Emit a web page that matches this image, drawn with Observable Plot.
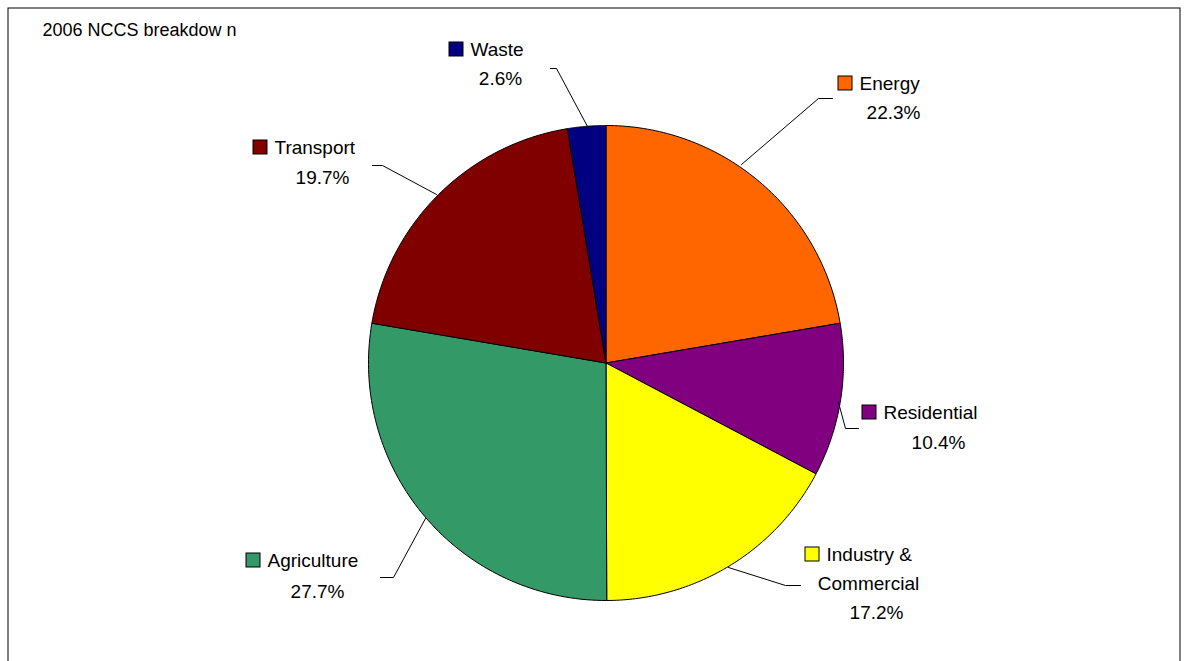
<!DOCTYPE html>
<html><head><meta charset="utf-8">
<script src="https://cdn.jsdelivr.net/npm/d3@7"></script>
<script src="https://cdn.jsdelivr.net/npm/@observablehq/plot@0.6"></script>
<style>body{margin:0;background:#fff}</style>
</head><body><div id="chart"></div>
<script>
const sectors = ['Energy', 'Residential', 'Industry & Commercial', 'Agriculture', 'Transport', 'Waste']
const shares = [22.3, 10.4, 17.2, 27.7, 19.7, 2.6]
const colors = ['#ff6600', '#800080', '#ffff00', '#339966', '#800000', '#000080']

// layout (pixels)
const cx = 605.5, cy = 362.5, R = 237.5
const labelLayout = [
  {sq: [838, 83], lines: ['Energy'], pct: [893, 112], leader: [[832, 98], [818, 98], [741, 164]]},
  {sq: [862, 412], lines: ['Residential'], pct: [938, 442], leader: [[858, 428], [845, 428], [838, 402]]},
  {sq: [805, 554], lines: ['Industry &', 'Commercial'], pct: [876, 612], leader: [[800, 585], [785, 585], [728, 567]]},
  {sq: [246, 560], lines: ['Agriculture'], pct: [317, 591], leader: [[380, 577], [393, 577], [425, 518]]},
  {sq: [253, 147], lines: ['Transport'], pct: [322, 177], leader: [[372, 165], [382, 165], [436, 194]]},
  {sq: [449, 49], lines: ['Waste'], pct: [500, 78], leader: [[550, 68], [556, 68], [587, 126]]}
]

const arcs = d3.pie().sort(null).value(d => d)(shares)
const slicePts = []
arcs.forEach((a, i) => {
  slicePts.push({s: i, x: cx, y: cy})
  const n = 80
  for (let k = 0; k <= n; k++) {
    const t = a.startAngle + (a.endAngle - a.startAngle) * k / n
    slicePts.push({s: i, x: cx + R * Math.sin(t), y: cy - R * Math.cos(t)})
  }
  slicePts.push({s: i, x: cx, y: cy})
})

const leaders = labelLayout.flatMap((l, i) => l.leader.map(p => ({s: i, x: p[0], y: p[1]})))
const squares = labelLayout.map((l, i) => ({s: i, x: l.sq[0], y: l.sq[1]}))
const firstLines = labelLayout.map(l => ({t: l.lines[0], x: l.sq[0] + 21, y: l.sq[1]}))
const extraLines = labelLayout.flatMap(l => l.lines.slice(1).map((t, j) => ({t, x: l.pct[0] - 8, y: l.sq[1] + (j + 1) * 29})))
const pcts = labelLayout.map((l, i) => ({t: shares[i].toFixed(1) + '%', x: l.pct[0], y: l.pct[1]}))

const chart = Plot.plot({
  width: 1187, height: 661, margin: 0,
  style: {fontFamily: 'Liberation Sans, Arial, sans-serif'},
  x: {domain: [0, 1187], range: [0, 1187], axis: null},
  y: {domain: [0, 661], range: [0, 661], axis: null},
  marks: [
    Plot.rect([{x1: 8, x2: 1180, y1: 8, y2: 670}], {x1: 'x1', x2: 'x2', y1: 'y1', y2: 'y2', fill: 'none', stroke: 'black'}),
    Plot.text(['2006 NCCS breakdow n'], {x: 42, y: 30, text: d => d, textAnchor: 'start', fontSize: 18, fill: 'black'}),
    Plot.line(slicePts, {x: 'x', y: 'y', z: 's', fill: d => colors[d.s], stroke: 'black', strokeWidth: 1, curve: 'linear'}),
    Plot.line(leaders, {x: 'x', y: 'y', z: 's', stroke: 'black', strokeWidth: 1}),
    Plot.rect(squares, {x1: d => d.x, x2: d => d.x + 14, y1: d => d.y - 7, y2: d => d.y + 7, fill: d => colors[d.s], stroke: 'black'}),
    Plot.text(firstLines, {x: 'x', y: 'y', text: 't', textAnchor: 'start', fontSize: 19, fill: 'black'}),
    Plot.text(extraLines, {x: 'x', y: 'y', text: 't', textAnchor: 'middle', fontSize: 19, fill: 'black'}),
    Plot.text(pcts, {x: 'x', y: 'y', text: 't', textAnchor: 'middle', fontSize: 19, fill: 'black'})
  ]
})
document.getElementById('chart').append(chart)
</script>
</body></html>
